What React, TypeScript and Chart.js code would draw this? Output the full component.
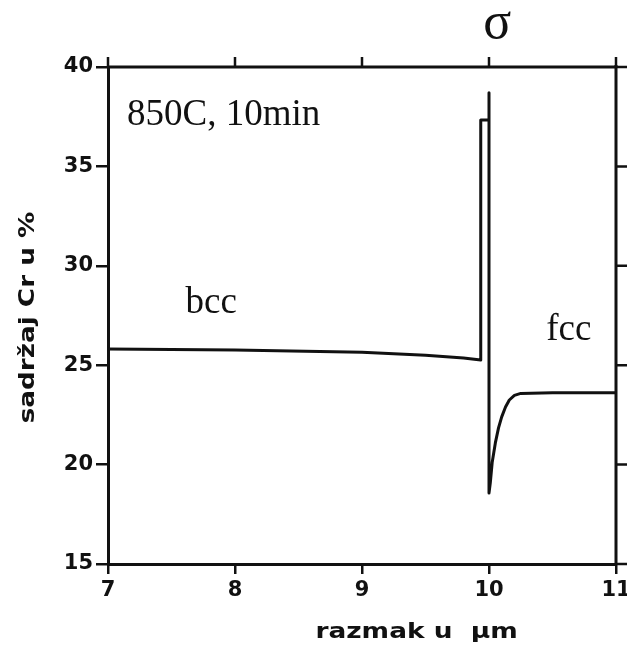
import React, { useEffect, useRef } from "react";
import { Chart, registerables } from "chart.js";

Chart.register(...registerables);

// distance (µm) and Cr content (%)
const distanceUm = [7, 8, 9, 9.5, 9.8, 9.935, 9.935, 10.0, 10.0, 10.0, 10.01, 10.025, 10.05, 10.075, 10.1, 10.13, 10.16, 10.2, 10.25, 10.5, 11];
const crPercent = [25.82, 25.77, 25.65, 25.5, 25.36, 25.26, 37.33, 37.33, 38.7, 18.57, 19.07, 20.1, 21.09, 21.85, 22.4, 22.9, 23.25, 23.48, 23.58, 23.62, 23.62];

const xTickValues = [7, 8, 9, 10, 11];
const yTickValues = [15, 20, 25, 30, 35, 40];

const xTitle = "razmak u  \u00b5m";
const yTitle = "sadr\u017eaj Cr u %";
const conditionLabel = "850C, 10min";
const bccLabel = "bcc";
const fccLabel = "fcc";
const sigmaLabel = "\u03c3";

const INK = "#111";

const decorPlugin = {
  id: "decor",
  afterDraw(chart: any) {
    const { ctx, chartArea: a, scales } = chart;
    const x = scales.x;
    const y = scales.y;
    ctx.save();
    ctx.strokeStyle = INK;
    ctx.lineCap = "butt";
    // top and right frame
    ctx.lineWidth = 3;
    ctx.beginPath();
    ctx.moveTo(a.left, a.top);
    ctx.lineTo(a.right, a.top);
    ctx.moveTo(a.right, a.top - 2);
    ctx.lineTo(a.right, a.bottom);
    ctx.stroke();
    // top and right tick marks
    ctx.lineWidth = 2.5;
    ctx.beginPath();
    xTickValues.forEach((v) => {
      const px = x.getPixelForValue(v);
      ctx.moveTo(px, a.top);
      ctx.lineTo(px, a.top - 10);
    });
    yTickValues.forEach((v) => {
      const py = y.getPixelForValue(v);
      ctx.moveTo(a.right, py);
      ctx.lineTo(a.right + 11, py);
    });
    ctx.stroke();

    // annotations
    ctx.fillStyle = INK;
    ctx.textBaseline = "alphabetic";
    ctx.textAlign = "left";
    ctx.font = '37px "Liberation Serif"';
    ctx.fillText(conditionLabel, x.getPixelForValue(7.15), y.getPixelForValue(37.08));
    ctx.fillText(bccLabel, x.getPixelForValue(7.61), y.getPixelForValue(27.63));
    ctx.fillText(fccLabel, x.getPixelForValue(10.45), y.getPixelForValue(26.27));
    ctx.textAlign = "center";
    ctx.font = '52px "Liberation Serif"';
    ctx.fillText(sigmaLabel, x.getPixelForValue(10.065), a.top - 29);

    // axis titles
    ctx.font = 'bold 22px "DejaVu Sans"';
    ctx.save();
    ctx.translate(x.getPixelForValue(9.43), 638);
    ctx.scale(1.2, 1);
    ctx.fillText(xTitle, 0, 0);
    ctx.restore();

    ctx.font = 'bold 21px "DejaVu Sans"';
    ctx.save();
    ctx.translate(34, (a.top + a.bottom) / 2 + 2);
    ctx.rotate(-Math.PI / 2);
    ctx.scale(1.25, 1);
    ctx.fillText(yTitle, 0, 0);
    ctx.restore();

    ctx.restore();
  },
};

export default function App() {
  const canvasRef = useRef<HTMLCanvasElement | null>(null);

  useEffect(() => {
    if (!canvasRef.current) return;
    const points = distanceUm.map((d, i) => ({ x: d, y: crPercent[i] }));
    const chart = new Chart(canvasRef.current, {
      type: "line",
      data: {
        datasets: [
          {
            data: points,
            borderColor: INK,
            borderWidth: 3,
            pointRadius: 0,
            tension: 0,
            fill: false,
            borderJoinStyle: "round",
          },
        ],
      },
      options: {
        responsive: false,
        animation: false,
        devicePixelRatio: 1,
        layout: { padding: { top: 67, right: 11, left: 0, bottom: 0 } },
        plugins: {
          legend: { display: false },
          tooltip: { enabled: false },
        },
        scales: {
          x: {
            type: "linear",
            min: 7,
            max: 11,
            afterBuildTicks: (scale: any) => {
              scale.ticks = xTickValues.map((v) => ({ value: v }));
            },
            ticks: {
              color: INK,
              font: { family: "DejaVu Sans", weight: "bold", size: 21 },
              padding: 4,
              maxRotation: 0,
              autoSkip: false,
            },
            grid: {
              drawOnChartArea: false,
              drawTicks: true,
              tickLength: 10,
              color: INK,
              lineWidth: 2.5,
            },
            border: { display: true, color: INK, width: 3 },
            afterFit: (scale: any) => {
              scale.height = 82;
              scale.paddingLeft = 0;
              scale.paddingRight = 0;
            },
          },
          y: {
            type: "linear",
            min: 15,
            max: 40,
            afterBuildTicks: (scale: any) => {
              scale.ticks = yTickValues.map((v) => ({ value: v }));
            },
            ticks: {
              color: INK,
              font: { family: "DejaVu Sans", weight: "bold", size: 21 },
              padding: 3,
              autoSkip: false,
            },
            grid: {
              drawOnChartArea: false,
              drawTicks: true,
              tickLength: 12,
              color: INK,
              lineWidth: 2.5,
            },
            border: { display: true, color: INK, width: 3 },
            afterFit: (scale: any) => {
              scale.width = 108;
              scale.paddingTop = 0;
              scale.paddingBottom = 0;
            },
          },
        },
      },
      plugins: [decorPlugin],
    });
    return () => chart.destroy();
  }, []);

  return (
    <div
      style={{
        position: "fixed",
        left: 0,
        top: 0,
        width: 627,
        height: 646,
        background: "#fff",
      }}
    >
      <canvas ref={canvasRef} width={627} height={646} style={{ display: "block" }} />
    </div>
  );
}
